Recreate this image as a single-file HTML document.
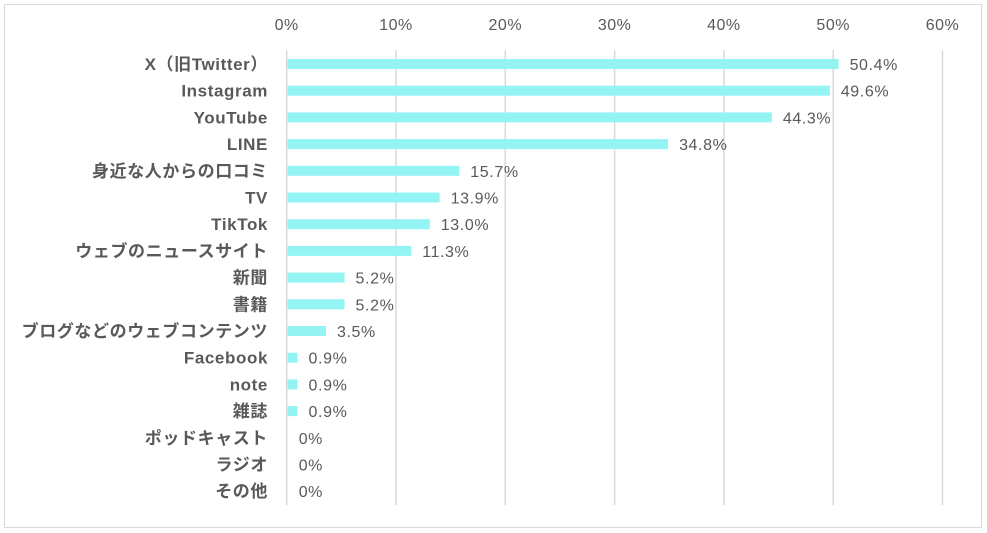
<!DOCTYPE html>
<html><head><meta charset="utf-8"><style>
body{margin:0;background:#fff;}
svg{display:block;font-family:"Liberation Sans","Noto Sans CJK JP",sans-serif;}
</style></head><body>
<svg id="chart" width="987" height="533">
<rect x="4.5" y="4.5" width="977" height="523" fill="#fff" stroke="#d9d9d9"/>
<g id="grid"></g><g id="bars"></g><g id="labels"></g>
</svg>
<script>
const categories=["X（旧Twitter）","Instagram","YouTube","LINE","身近な人からの口コミ","TV","TikTok","ウェブのニュースサイト","新聞","書籍","ブログなどのウェブコンテンツ","Facebook","note","雑誌","ポッドキャスト","ラジオ","その他"];
const values=[50.4,49.6,44.3,34.8,15.7,13.9,13.0,11.3,5.2,5.2,3.5,0.9,0.9,0.9,0,0,0];
const valueLabels=["50.4%","49.6%","44.3%","34.8%","15.7%","13.9%","13.0%","11.3%","5.2%","5.2%","3.5%","0.9%","0.9%","0.9%","0%","0%","0%"];
const ticks=[0,10,20,30,40,50,60];
const tickLabels=["0%","10%","20%","30%","40%","50%","60%"];
const NS="http://www.w3.org/2000/svg";
const x=v=>286.7+v*10.93;
const y=i=>64+i*26.7;
function mk(t,a,p){const e=document.createElementNS(NS,t);for(const k in a)e.setAttribute(k,a[k]);p.appendChild(e);return e;}
const G=document.getElementById('grid'),B=document.getElementById('bars'),L=document.getElementById('labels');
ticks.forEach((t,i)=>{
 const l=mk('line',{x1:x(t),x2:x(t),y1:50,y2:505,stroke:'#d9d9d9','stroke-width':1.5},G);
 
 
 const tx=mk('text',{x:x(t),y:30,'text-anchor':'middle','font-size':16,'letter-spacing':0.5,fill:'#595959'},L);
 tx.textContent=tickLabels[i];
 
 
});
categories.forEach((c,i)=>{
 const r=mk('rect',{x:x(0)+1,y:y(i)-5,width:Math.max(0,x(values[i])-x(0)),height:10,fill:'#94f4f4'},B);
 
 
 const cl=mk('text',{x:268,y:y(i)+6,'text-anchor':'end','font-size':17,'letter-spacing':0.6,'font-weight':'bold',fill:'#595959'},L);
 cl.textContent=c;
 
 
 const vl=mk('text',{x:x(values[i])+12,y:y(i)+6,'font-size':16,'letter-spacing':0.6,fill:'#595959'},L);
 vl.textContent=valueLabels[i];
 
 
});
</script>
</body></html>
